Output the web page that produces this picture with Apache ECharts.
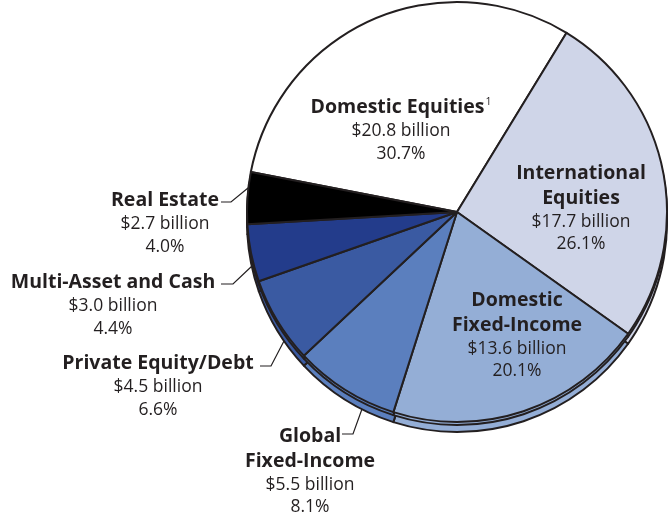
<!DOCTYPE html>
<html><head><meta charset="utf-8">
<script src="https://cdn.jsdelivr.net/npm/echarts@6/dist/echarts.min.js"></script>
<style>html,body{margin:0;padding:0;background:#fff}#c{width:672px;height:517px}</style>
</head><body><div id="c"></div>
<script>
const categories = ['Domestic Equities','International Equities','Domestic Fixed-Income','Global Fixed-Income','Private Equity/Debt','Multi-Asset and Cash','Real Estate'];
const labelNames = ['Domestic Equities','International\nEquities','Domestic\nFixed-Income','Global\nFixed-Income','Private Equity/Debt','Multi-Asset and Cash','Real Estate'];
const billions = [20.8, 17.7, 13.6, 5.5, 4.5, 3.0, 2.7];
const percents = [30.7, 26.1, 20.1, 8.1, 6.6, 4.4, 4.0];
const footnotes = ['1','','','','','',''];

const colors = ['#ffffff','#cfd5e8','#94aed6','#5b7fbe','#3a5aa2','#233c8b','#000000'];
const labelPos = [[401,130],[581,208],[517,335],[310,471],[158,386],[113,305],[165,223]];
const leaderPts = [null,null,null,
  [[362,409],[353,434],[342,434]],
  [[284,341],[271,366],[260,366]],
  [[252,266],[233,284],[221,284]],
  [[248,188],[231,202],[221,202]]];

const FONT = '"Open Sans", sans-serif';
const INK = '#231f20';
const CX = 457, CY = 212, R = 210, START = 169;

function fmt(p) {
  const i = p.dataIndex;
  const nameLines = labelNames[i].split('\n').map((s, k, a) =>
    '{b|' + s + '}' + (k === a.length - 1 && footnotes[i] ? '{sup|' + footnotes[i] + '}' : ''));
  return nameLines.join('\n') + '\n{r|$' + billions[i].toFixed(1) + ' billion}\n{r|' + percents[i].toFixed(1) + '%}';
}

function makeData(withLabels) {
  return categories.map((n, i) => ({
    name: n, value: billions[i],
    itemStyle: { color: colors[i] },
    labelLine: { show: withLabels && !!leaderPts[i] }
  }));
}

const baseItem = { borderColor: INK, borderWidth: 2 };

const option = {
  animation: false,
  series: [
    { type: 'pie', z: 1, silent: true, center: [CX, CY + 10], radius: R, startAngle: START,
      label: { show: false }, labelLine: { show: false }, itemStyle: baseItem, data: makeData(false) },
    { type: 'pie', z: 2, silent: true, center: [CX, CY + 3], radius: R, startAngle: START,
      label: { show: false }, labelLine: { show: false }, itemStyle: baseItem, data: makeData(false) },
    { type: 'pie', z: 3, center: [CX, CY], radius: R, startAngle: START, avoidLabelOverlap: false,
      itemStyle: baseItem,
      label: {
        show: true, position: 'outside', formatter: fmt, align: 'center',
        rich: {
          b: { fontFamily: FONT, fontWeight: 'bold', fontSize: 19.5, color: INK, lineHeight: 25, align: 'center' },
          r: { fontFamily: FONT, fontSize: 17.5, color: INK, lineHeight: 22.5, align: 'center' },
          sup: { fontFamily: FONT, fontSize: 10.5, color: INK, lineHeight: 25, padding: [0, 0, 10, 1] }
        }
      },
      labelLine: { show: true, lineStyle: { color: INK, width: 1.2 } },
      labelLayout: function (params) {
        const i = params.dataIndex;
        const o = { x: labelPos[i][0], y: labelPos[i][1], align: 'center', verticalAlign: 'middle' };
        if (leaderPts[i]) o.labelLinePoints = leaderPts[i];
        return o;
      },
      data: makeData(true) }
  ]
};
const chart = echarts.init(document.getElementById('c'), null, { renderer: 'canvas' });
chart.setOption(option);
</script></body></html>
